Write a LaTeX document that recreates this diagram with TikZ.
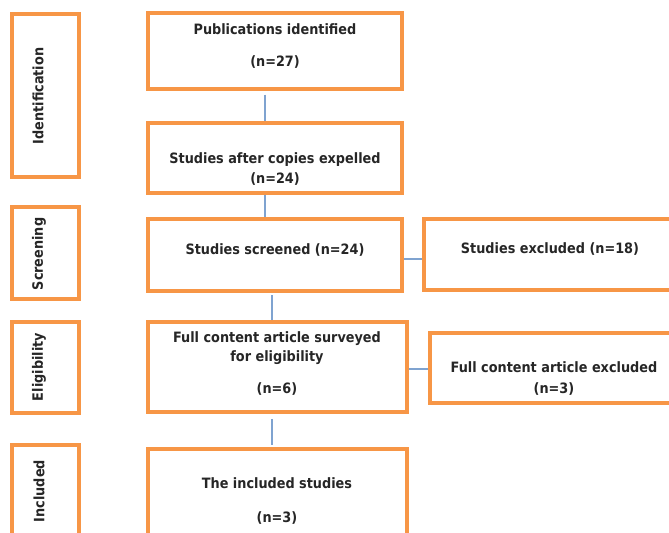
\documentclass[tikz,border=0pt]{standalone}
\usepackage{fontspec}
\setmainfont{DejaVu Sans Condensed}
\usetikzlibrary{fit}
\definecolor{boxorange}{HTML}{F79646}
\definecolor{linkblue}{HTML}{7FA3D0}
\definecolor{txt}{HTML}{262626}
\begin{document}
\begin{tikzpicture}[x=0.75pt,y=-0.75pt,
  box/.style={draw=boxorange,line width=2.3pt,inner sep=0pt,fill=white},
  conn/.style={draw=linkblue,line width=0.8pt},
  lab/.style={text=txt,font=\bfseries\fontsize{10.7}{12}\selectfont,inner sep=0pt,anchor=base},
  side/.style={text=txt,font=\bfseries\fontsize{10.7}{12}\selectfont,inner sep=0pt,rotate=90}]
\useasboundingbox (0,0) rectangle (669,533);
\clip (0,0) rectangle (669,533);
% side boxes
\node[box,fit={(12,14) (79,177)}] (sid) {};
\node[box,fit={(12,207) (79,299)}] (sscr) {};
\node[box,fit={(12,322) (79,413)}] (selig) {};
\node[box,fit={(12,445) (79,570)}] (sinc) {};
\node[side] (tid) at (38,96) {Identification};
\node[side] (tscr) at (39,254) {Screening};
\node[side] (telig) at (39,367) {Eligibility};
\node[side] (tinc) at (39,491) {Included};
% main boxes
\node[box,fit={(148,13) (402,89)}] (pub) {};
\node[box,fit={(148,123) (402,193)}] (cop) {};
\node[box,fit={(148,219) (402,291)}] (scr) {};
\node[box,fit={(424,219) (700,290)}] (exa) {};
\node[box,fit={(148,322) (407,412)}] (sur) {};
\node[box,fit={(430,333) (700,403)}] (exb) {};
\node[box,fit={(148,449) (407,580)}] (inc) {};
% texts
\node[lab] (t1) at (275,34) {Publications identified};
\node[lab] (t2) at (275,66) {(n=27)};
\node[lab] (t3) at (275,163) {Studies after copies expelled};
\node[lab] (t4) at (275,183) {(n=24)};
\node[lab] (t5) at (275,254) {Studies screened (n=24)};
\node[lab] (t6) at (550,253) {Studies excluded (n=18)};
\node[lab] (t7) at (277,342) {Full content article surveyed};
\node[lab] (t8) at (277,361) {for eligibility};
\node[lab] (t9) at (277,393) {(n=6)};
\node[lab] (t10) at (554,372) {Full content article excluded};
\node[lab] (t11) at (554,393) {(n=3)};
\node[lab] (t12) at (277,488) {The included studies};
\node[lab] (t13) at (277,522) {(n=3)};
% connectors
\coordinate (ca) at (265,0);
\coordinate (cb) at (272,0);
\coordinate (ha) at (0,259);
\coordinate (hb) at (0,369);
\draw[conn] ([yshift=-3pt]pub.south -| ca) -- (cop.north -| ca);
\draw[conn] (cop.south -| ca) -- (scr.north -| ca);
\draw[conn] ([yshift=-2pt]scr.south -| cb) -- (sur.north -| cb);
\draw[conn] ([yshift=-4pt]sur.south -| cb) -- ([yshift=2pt]inc.north -| cb);
\draw[conn] (scr.east |- ha) -- (exa.west |- ha);
\draw[conn] (sur.east |- hb) -- (exb.west |- hb);
\end{tikzpicture}
\end{document}
